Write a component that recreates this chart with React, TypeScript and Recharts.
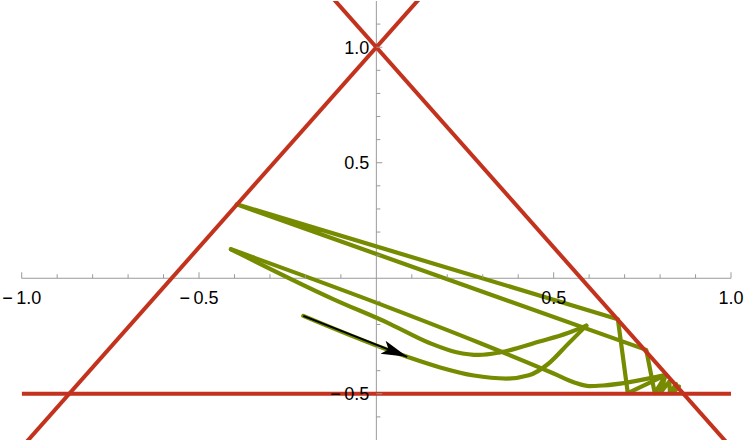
import React from 'react';
import { ComposedChart, Line, XAxis, YAxis, ReferenceLine, ReferenceDot } from 'recharts';

// ---- tick positions / labels ----
const xTicks = [-1, -0.9, -0.8, -0.7, -0.6, -0.5, -0.4, -0.3, -0.2, -0.1, 0.1, 0.2, 0.3, 0.4, 0.5, 0.6, 0.7, 0.8, 0.9, 1];
const xLabeled = [-1, -0.5, 0.5, 1];
const yTicks = [-0.6, -0.5, -0.4, -0.3, -0.2, -0.1, 0.1, 0.2, 0.3, 0.4, 0.5, 0.6, 0.7, 0.8, 0.9, 1, 1.1];
const yLabeled = [-0.5, 0.5, 1];

// ---- triangle edges (red) ----
const leftEdge = [{ x: -1, y: -0.732 }, { x: 0.2, y: 1.346 }];
const rightEdge = [{ x: -0.2, y: 1.346 }, { x: 1, y: -0.732 }];
const baseEdge = [{ x: -1, y: -0.5 }, { x: 1, y: -0.5 }];

// ---- trajectory (green), split in pieces ----
// start -> lower U-turn -> tip
const lowerSweep = [
  { x: -0.206, y: -0.163 },
  { x: 0.085, y: -0.339 },
  { x: 0.18, y: -0.386 },
  { x: 0.275, y: -0.421 },
  { x: 0.367, y: -0.434 },
  { x: 0.43, y: -0.42 },
  { x: 0.485, y: -0.37 },
  { x: 0.54, y: -0.285 },
  { x: 0.592, y: -0.205 },
];
// left turning point -> upper U-turn -> tip
const upperSweep = [
  { x: -0.41, y: 0.1255 },
  { x: -0.122, y: -0.09 },
  { x: 0.038, y: -0.197 },
  { x: 0.15, y: -0.28 },
  { x: 0.226, y: -0.32 },
  { x: 0.29, y: -0.332 },
  { x: 0.348, y: -0.321 },
  { x: 0.46, y: -0.274 },
  { x: 0.54, y: -0.237 },
  { x: 0.592, y: -0.205 },
];
// left turning point -> bottom bend -> right wall
const longSweep = [
  { x: -0.41, y: 0.1255 },
  { x: 0.038, y: -0.128 },
  { x: 0.29, y: -0.279 },
  { x: 0.5, y: -0.412 },
  { x: 0.56, y: -0.452 },
  { x: 0.6, y: -0.467 },
  { x: 0.64, y: -0.464 },
  { x: 0.817, y: -0.418 },
];
// bounces near the right corner
const bounces = [
  { x: 0.817, y: -0.418 },
  { x: 0.709, y: -0.497 },
  { x: 0.681, y: -0.177 },
  { x: -0.394, y: 0.32 },
  { x: 0.761, y: -0.31 },
  { x: 0.785, y: -0.497 },
  { x: 0.815, y: -0.423 },
  { x: 0.8, y: -0.497 },
  { x: 0.826, y: -0.447 },
  { x: 0.828, y: -0.497 },
  { x: 0.845, y: -0.458 },
  { x: 0.84, y: -0.49 },
  { x: 0.853, y: -0.468 },
  { x: 0.843, y: -0.481 },
  { x: 0.851, y: -0.474 },
];

// ---- arrow (black) ----
const arrowPath = [{ x: -0.206, y: -0.163 }, { x: 0.087, y: -0.34 }];

const RED = '#C2321C';
const GREEN = '#778B00';
const AXIS = '#9a9a9a';
const FONT = '"Liberation Sans", Arial, sans-serif';

const fmt = (v: number) => (v < 0 ? '\u2212\u2009' : '') + Math.abs(v).toFixed(1);
const near = (a: number, list: number[]) => list.some((b) => Math.abs(a - b) < 1e-9);

const xTickShape = (v: number) => (p: any) => {
  const major = near(v, xLabeled);
  const len = major ? 6 : 4;
  return (
    <g>
      <line x1={p.cx} y1={p.cy} x2={p.cx} y2={p.cy - len} stroke={AXIS} strokeWidth={1} />
      {major ? (
        <text x={p.cx} y={p.cy + 26} textAnchor="middle" fontFamily={FONT} fontSize={18} fill="#000">
          {fmt(v)}
        </text>
      ) : null}
    </g>
  );
};

const yTickShape = (v: number) => (p: any) => {
  const major = near(v, yLabeled);
  const len = major ? 6 : 4;
  return (
    <g>
      <line x1={p.cx} y1={p.cy} x2={p.cx + len} y2={p.cy} stroke={AXIS} strokeWidth={1} />
      {major ? (
        <text x={p.cx - 7} y={p.cy + 6.5} textAnchor="end" fontFamily={FONT} fontSize={18} fill="#000">
          {fmt(v)}
        </text>
      ) : null}
    </g>
  );
};

const greenProps = {
  dataKey: 'y',
  stroke: GREEN,
  strokeWidth: 4.2,
  strokeLinejoin: 'round' as const,
  strokeLinecap: 'round' as const,
  dot: false,
  isAnimationActive: false,
};

export default function App() {
  return (
    <div style={{ position: 'absolute', left: 0, top: 0, background: '#fff' }}>
      <ComposedChart width={747} height={443} margin={{ top: 1, right: 16, bottom: 3, left: 21.7 }}>
        <defs>
          <marker
            id="arrowHead"
            markerUnits="userSpaceOnUse"
            markerWidth={28}
            markerHeight={16}
            viewBox="0 0 28 16"
            refX={26}
            refY={8}
            orient="auto"
          >
            <path d="M0,1 L26,8 L0,15 L6,8 Z" fill="#000" />
          </marker>
        </defs>
        <XAxis type="number" dataKey="x" domain={[-1, 1]} hide allowDataOverflow />
        <YAxis type="number" dataKey="y" domain={[-0.7, 1.2]} hide allowDataOverflow />
        <ReferenceLine y={0} stroke={AXIS} strokeWidth={1} />
        <ReferenceLine x={0} stroke={AXIS} strokeWidth={1} />
        {xTicks.map((v) => (
          <ReferenceDot key={'xt' + v} x={v} y={0} r={0} ifOverflow="visible" shape={xTickShape(v)} />
        ))}
        {yTicks.map((v) => (
          <ReferenceDot key={'yt' + v} x={0} y={v} r={0} ifOverflow="visible" shape={yTickShape(v)} />
        ))}
        <Line data={lowerSweep} type="monotone" {...greenProps} />
        <Line data={upperSweep} type="monotone" {...greenProps} />
        <Line data={longSweep} type="monotone" {...greenProps} />
        <Line data={bounces} type="linear" {...greenProps} />
        <Line data={leftEdge} dataKey="y" type="linear" stroke={RED} strokeWidth={4} dot={false} isAnimationActive={false} />
        <Line data={rightEdge} dataKey="y" type="linear" stroke={RED} strokeWidth={4} dot={false} isAnimationActive={false} />
        <Line data={baseEdge} dataKey="y" type="linear" stroke={RED} strokeWidth={4} dot={false} isAnimationActive={false} />
        <Line
          data={arrowPath}
          dataKey="y"
          type="linear"
          stroke="#000"
          strokeWidth={2}
          dot={false}
          markerEnd="url(#arrowHead)"
          isAnimationActive={false}
        />
      </ComposedChart>
    </div>
  );
}
